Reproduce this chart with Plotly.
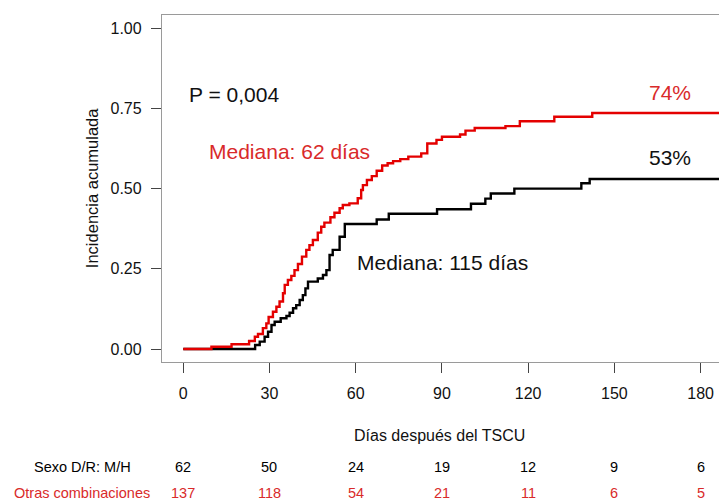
import plotly.graph_objects as go

# Cumulative incidence step curves (days after transplant, cumulative incidence)
dias_mh = [0, 25.0, 26.6, 28.3, 29.5, 30.7, 31.8, 33.9, 35.9, 37.0, 38.2, 39.3, 40.5,
           41.6, 42.5, 43.4, 46.8, 48.6, 49.8, 50.9, 52.0, 54.4, 56.2, 67.3, 71.5,
           88.3, 100.1, 105.1, 107.0, 115.2, 138.5, 141.4, 186.4]
inc_mh = [0, 0.0125, 0.023, 0.038, 0.054, 0.075, 0.085, 0.096, 0.103, 0.113, 0.127,
          0.137, 0.153, 0.168, 0.189, 0.21, 0.22, 0.231, 0.246, 0.293, 0.309, 0.35,
          0.39, 0.404, 0.422, 0.436, 0.453, 0.469, 0.485, 0.50, 0.517, 0.53, 0.53]

dias_otras = [0, 9.8, 16.8, 22.9, 24.9, 26.0, 27.7, 28.9, 29.7, 31.2, 32.4, 33.5, 34.7,
              35.3, 36.4, 37.6, 38.7, 39.9, 41.3, 42.8, 43.9, 45.1, 46.8, 48.0, 49.1,
              51.2, 52.6, 54.4, 55.5, 57.8, 60.7, 61.9, 62.5, 63.9, 65.6, 67.3, 69.2,
              71.1, 73.0, 75.5, 78.3, 82.8, 84.9, 88.1, 90.0, 96.3, 98.2, 101.4, 112.1,
              117.1, 129.1, 142.3, 186.4]
inc_otras = [0, 0.007, 0.015, 0.025, 0.038, 0.047, 0.065, 0.08, 0.10, 0.116, 0.132,
             0.148, 0.174, 0.20, 0.215, 0.228, 0.246, 0.265, 0.288, 0.309, 0.324, 0.34,
             0.363, 0.381, 0.394, 0.411, 0.425, 0.439, 0.449, 0.454, 0.47, 0.496, 0.511,
             0.527, 0.539, 0.556, 0.572, 0.579, 0.586, 0.592, 0.60, 0.61, 0.641, 0.652,
             0.662, 0.669, 0.681, 0.689, 0.695, 0.71, 0.724, 0.736, 0.736]

# Number at risk table
tiempos_riesgo = [0, 30, 60, 90, 120, 150, 180]
riesgo_mh = [62, 50, 24, 19, 12, 9, 6]
riesgo_otras = [137, 118, 54, 21, 11, 6, 5]
grupos = ["Sexo D/R: M/H", "Otras combinaciones"]

y_ticks = [0, 0.25, 0.5, 0.75, 1.0]
y_ticktext = ["0.00", "0.25", "0.50", "0.75", "1.00"]

ROJO = "#e40000"
ROJO_TXT = "#d92a2a"
NEGRO = "#000000"
FONT = "Liberation Sans, Arial, sans-serif"

fig = go.Figure()
fig.add_trace(go.Scatter(x=dias_mh, y=inc_mh, mode="lines", line_shape="hv",
                         line=dict(color=NEGRO, width=2.4), showlegend=False))
fig.add_trace(go.Scatter(x=dias_otras, y=inc_otras, mode="lines", line_shape="hv",
                         line=dict(color=ROJO, width=2.4), showlegend=False))

ann = []
# In-plot labels
ann.append(dict(x=1.3, y=0.793, xref="x", yref="y", text="P = 0,004", showarrow=False,
                xanchor="left", yanchor="middle", font=dict(size=21, color="#111")))
ann.append(dict(x=8.1, y=0.615, xref="x", yref="y", text="Mediana: 62 días", showarrow=False,
                xanchor="left", yanchor="middle", font=dict(size=21, color=ROJO_TXT)))
ann.append(dict(x=59.9, y=0.27, xref="x", yref="y", text="Mediana: 115 días", showarrow=False,
                xanchor="left", yanchor="middle", font=dict(size=21, color="#111")))
ann.append(dict(x=177.5, y=0.801, xref="x", yref="y", text="74%", showarrow=False,
                xanchor="right", yanchor="middle", font=dict(size=21, color=ROJO_TXT)))
ann.append(dict(x=177.5, y=0.596, xref="x", yref="y", text="53%", showarrow=False,
                xanchor="right", yanchor="middle", font=dict(size=21, color="#111")))

# Axis titles
ann.append(dict(x=0.499, y=-0.2104, xref="paper", yref="paper", text="Días después del TSCU",
                showarrow=False, xanchor="center", yanchor="middle",
                font=dict(size=16, color="#111")))
ann.append(dict(x=-0.1257, y=0.501, xref="paper", yref="paper", text="Incidencia acumulada",
                showarrow=False, textangle=-90, xanchor="center", yanchor="middle",
                font=dict(size=16.5, color="#111")))

# Risk table
filas = [(riesgo_mh, NEGRO, -0.3017), (riesgo_otras, ROJO_TXT, -0.3767)]
for (valores, color, yp), nombre in zip(filas, grupos):
    ann.append(dict(x=-0.1436, y=yp, xref="paper", yref="paper", text=nombre,
                    showarrow=False, xanchor="center", yanchor="middle",
                    font=dict(size=14.5, color=color)))
    for t, v in zip(tiempos_riesgo, valores):
        ann.append(dict(x=t, y=yp, xref="x", yref="paper", text=str(v),
                        showarrow=False, xanchor="center", yanchor="middle",
                        font=dict(size=14.5, color=color)))

fig.update_layout(
    width=719, height=500,
    margin=dict(l=162, r=0, t=15, b=138),
    paper_bgcolor="white", plot_bgcolor="white",
    font=dict(family=FONT, color="#111"),
    annotations=ann,
    showlegend=False,
)
fig.update_xaxes(range=[-7.4, 186.4], tickvals=tiempos_riesgo, showgrid=False, zeroline=False,
                 showline=True, linecolor="#9a9a9a", linewidth=1.3, mirror=True,
                 ticks="outside", ticklen=10, tickcolor="#444", tickwidth=1.2,
                 ticklabelstandoff=7,
                 tickfont=dict(size=16, color="#111"))
fig.update_yaxes(range=[-0.0405, 1.0415], tickvals=y_ticks, ticktext=y_ticktext,
                 showgrid=False, zeroline=False,
                 showline=True, linecolor="#9a9a9a", linewidth=1.3, mirror=False,
                 ticks="outside", ticklen=10, tickcolor="#444", tickwidth=1.2,
                 ticklabelstandoff=6,
                 tickfont=dict(size=16, color="#111"))

fig.write_html("out.html")
